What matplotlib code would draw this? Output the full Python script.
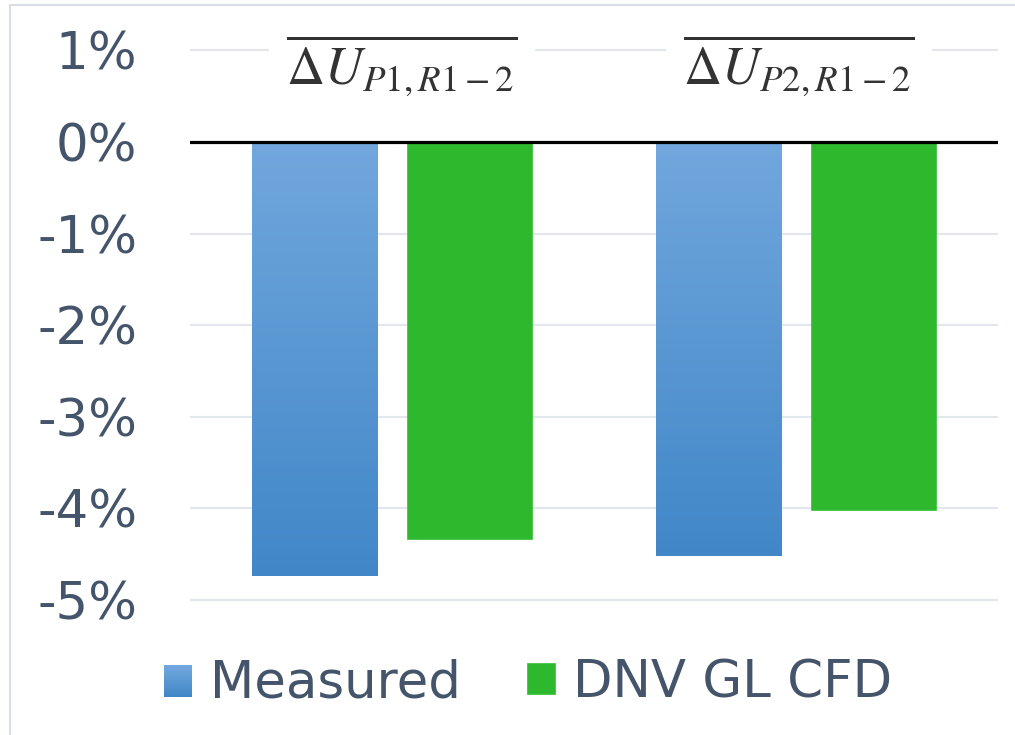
import matplotlib
matplotlib.use("Agg")
import matplotlib.pyplot as plt
import numpy as np
from matplotlib.patches import Rectangle
from matplotlib.legend_handler import HandlerBase
from matplotlib.colors import LinearSegmentedColormap

plt.rcParams['font.family'] = ['DejaVu Sans']
plt.rcParams['mathtext.fontset'] = 'stix'
plt.rcParams['axes.unicode_minus'] = False

categories = [r'$\overline{\Delta U_{P1,R1-2}}$', r'$\overline{\Delta U_{P2,R1-2}}$']
series_names = ['Measured', 'DNV GL CFD']
measured = [-4.74, -4.52]
cfd = [-4.33, -4.02]
yticks = [-5, -4, -3, -2, -1, 0, 1]
ytick_labels = ['-5%', '-4%', '-3%', '-2%', '-1%', '0%', '1%']

TEXT = '#44546a'
GRID = '#e2e6ed'
BLUE_TOP = '#71a7dd'
BLUE_BOT = '#4187c8'
GREEN = '#2db82e'
blue_cmap = LinearSegmentedColormap.from_list('bl', [BLUE_BOT, BLUE_TOP])

W, H = 1015, 735
fig = plt.figure(figsize=(W / 100, H / 100), dpi=100)

# figure border (left and top visible)
fig.patches.append(Rectangle((10 / W, -0.1), 1.2, (735 - 5) / H + 0.1, transform=fig.transFigure,
                             fill=False, edgecolor='#d9dee6', linewidth=1.5, zorder=0))

ax = fig.add_axes([190 / W, (735 - 609.2) / H, 808 / W, (609.2 - 41.2) / H])

x = np.arange(len(categories))
bw = 0.31
off = 0.192

# gradient blue bars
blue_bars = ax.bar(x - off, measured, bw, color='none', edgecolor='none', zorder=3)
grad = np.linspace(0, 1, 256).reshape(-1, 1)
for b in blue_bars:
    x0, y0 = b.get_x(), b.get_y()
    w, h = b.get_width(), b.get_height()
    ylo, yhi = min(y0, y0 + h), max(y0, y0 + h)
    im = ax.imshow(grad, cmap=blue_cmap, origin='lower', aspect='auto',
                   extent=[x0, x0 + w, ylo, yhi], zorder=3)
    im.set_clip_path(b)
ax.bar(x + off, cfd, bw, color=GREEN, edgecolor='#45c445', linewidth=0.6, zorder=3)

ax.set_xlim(-0.5, 1.5)
ax.set_ylim(-5.1, 1.1)

for t in yticks:
    if t != 0:
        ax.axhline(t, color=GRID, linewidth=1.5, zorder=1)
ax.axhline(0, color='black', linewidth=2.3, zorder=4)

ax.set_yticks(yticks)
ax.set_yticklabels(ytick_labels)
ax.tick_params(axis='y', length=0, pad=38, labelsize=37, labelcolor=TEXT)
ax.set_xticks([])
for s in ax.spines.values():
    s.set_visible(False)

label_x = [0.025, 1.007]
for lx, lab in zip(label_x, categories):
    ax.text(lx, 0.83, lab, ha='center', va='center', fontsize=38, color='#333333', zorder=5,
            bbox=dict(facecolor='white', edgecolor='none', pad=12))


class GradHandler(HandlerBase):
    def create_artists(self, legend, orig_handle, xdescent, ydescent, width, height, fontsize, trans):
        arts = []
        n = 20
        for i in range(n):
            c = blue_cmap(i / (n - 1))
            r = Rectangle((0, height * i / n), width, height / n + 0.3,
                          facecolor=c, edgecolor='none', transform=trans)
            arts.append(r)
        return arts


h_blue = Rectangle((0, 0), 1, 1)
h_green = Rectangle((0, 0), 1, 1, facecolor=GREEN, edgecolor='#45c445', linewidth=0.6)
leg = fig.legend([h_blue, h_green], series_names, loc='center', bbox_to_anchor=(528 / W, 1 - 683 / H),
                 ncol=2, frameon=False, fontsize=37, handlelength=0.54, handleheight=0.56,
                 handletextpad=0.35, columnspacing=1.3, labelcolor=TEXT,
                 handler_map={h_blue: GradHandler()})

fig.savefig('out.png', dpi=100)
